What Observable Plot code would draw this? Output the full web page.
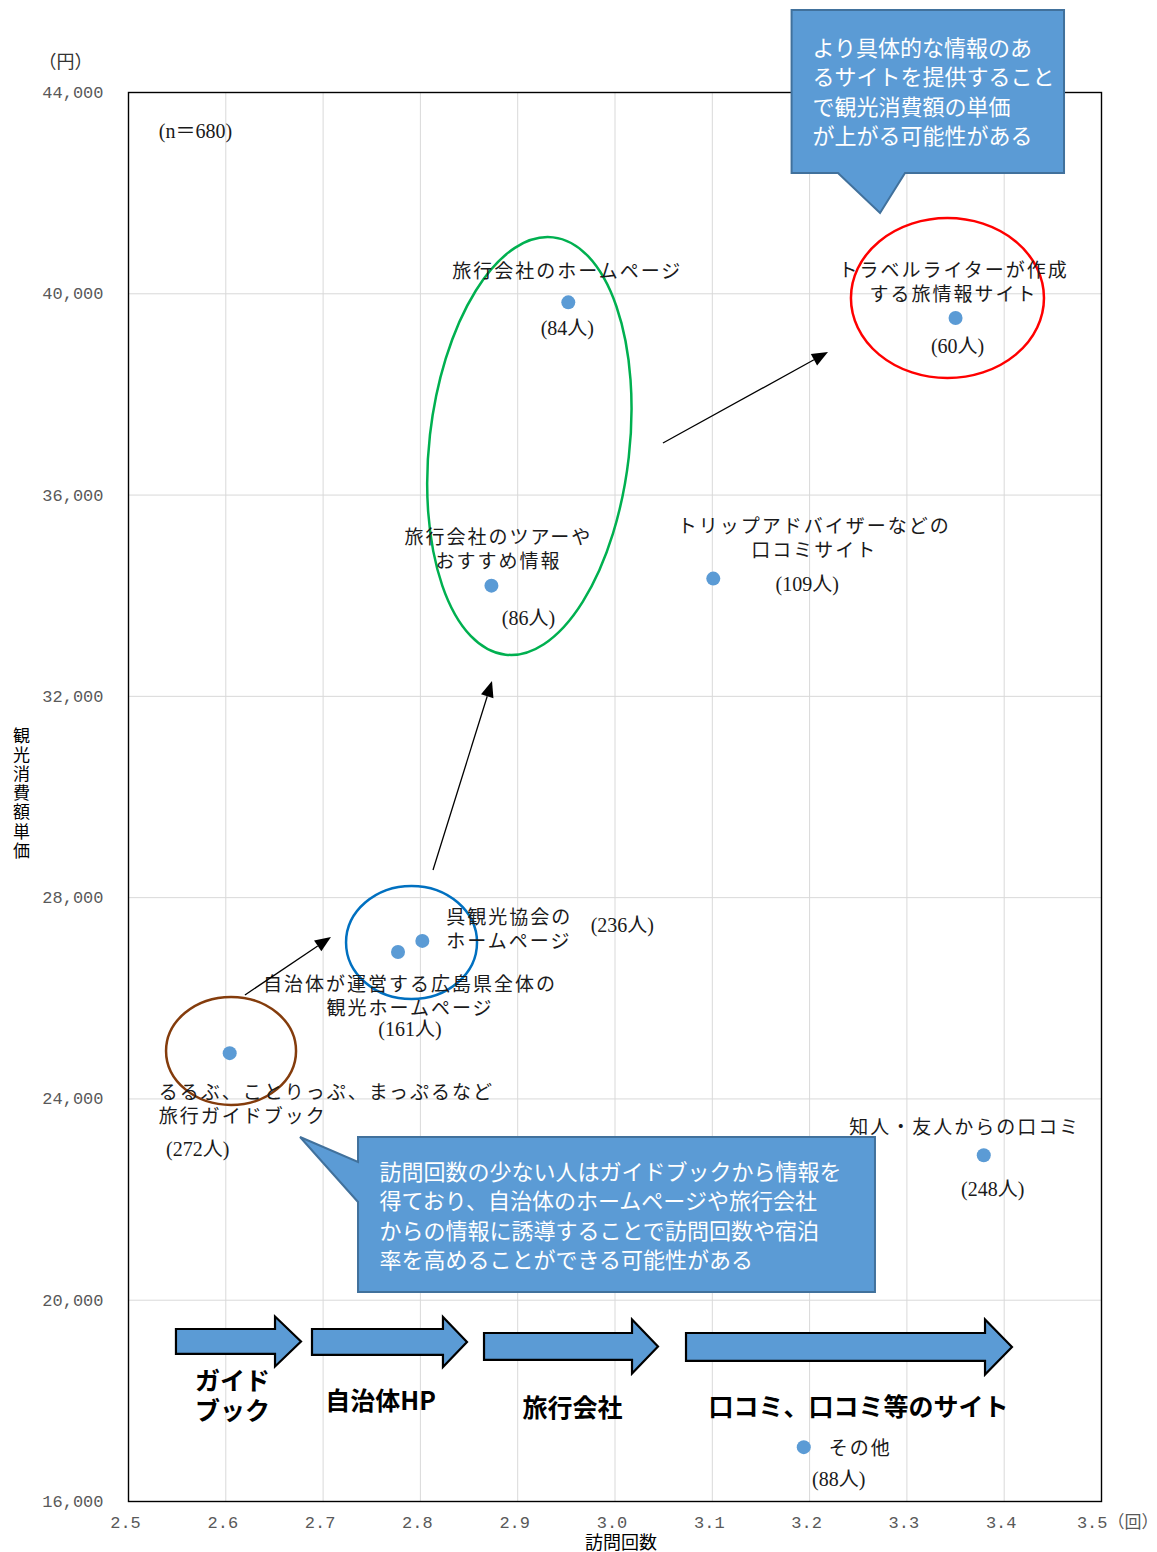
<!DOCTYPE html>
<html>
<head>
<meta charset="utf-8">
<script src="https://cdn.jsdelivr.net/npm/d3@7"></script>
<script src="https://cdn.jsdelivr.net/npm/@observablehq/plot@0.6"></script>
<style>
html, body { margin: 0; padding: 0; background: #fff; }
#chart svg { display: block; }
</style>
</head>
<body>
<div id="chart"></div>
<script>
// ---------- data ----------
const sources = [
  "るるぶ、ことりっぷ、まっぷるなど\n旅行ガイドブック",
  "自治体が運営する広島県全体の\n観光ホームページ",
  "呉観光協会の\nホームページ",
  "旅行会社のツアーや\nおすすめ情報",
  "旅行会社のホームページ",
  "トリップアドバイザーなどの\n口コミサイト",
  "トラベルライターが作成\nする旅情報サイト",
  "知人・友人からの口コミ",
  "その他"
];
const visits = [2.604, 2.777, 2.802, 2.873, 2.952, 3.101, 3.350, 3.379, 3.194];
const spend = [24910, 26920, 27140, 34200, 39830, 34340, 39520, 22880, 17080];
const respondents = [272, 161, 236, 86, 84, 109, 60, 248, 88];

const xTicks = [2.5, 2.6, 2.7, 2.8, 2.9, 3.0, 3.1, 3.2, 3.3, 3.4, 3.5];
const xTickLabels = ["2.5", "2.6", "2.7", "2.8", "2.9", "3.0", "3.1", "3.2", "3.3", "3.4", "3.5（回）"];
const yTicks = [16000, 20000, 24000, 28000, 32000, 36000, 40000, 44000];
const yTickLabels = ["16,000", "20,000", "24,000", "28,000", "32,000", "36,000", "40,000", "44,000"];

const sampleNote = "(n＝680)";
const yUnit = "（円）";
const xTitle = "訪問回数";
const yTitle = "観\n光\n消\n費\n額\n単\n価";

// ---------- label layout (pixel offsets from each point) ----------
const labelLayout = [
  {anchor: "start",  dx: -71, dy: 50,  cdx: -32, cdy: 96},
  {anchor: "middle", dx: 12,  dy: 43,  cdx: 12,  cdy: 78},
  {anchor: "start",  dx: 24,  dy: -13, cdx: 200, cdy: -15},
  {anchor: "middle", dx: 7,   dy: -37, cdx: 37,  cdy: 33},
  {anchor: "middle", dx: -1,  dy: -32, cdx: -1,  cdy: 26},
  {anchor: "middle", dx: 101, dy: -41, cdx: 94,  cdy: 6},
  {anchor: "middle", dx: -2,  dy: -37, cdx: 2,   cdy: 29},
  {anchor: "middle", dx: -19, dy: -29, cdx: 9,   cdy: 34},
  {anchor: "start",  dx: 25,  dy: 0,   cdx: 35,  cdy: 32}
];

// ---------- annotations (data coordinates) ----------
const ellipses = [
  {cx: 2.6059, cy: 24943, rx: 0.0668, ry: 1073, rotate: 0,   color: "#843c0c"},
  {cx: 2.7914, cy: 27099, rx: 0.0673, ry: 1123, rotate: 0,   color: "#0070c0"},
  {cx: 2.9125, cy: 36965, rx: 0.1028, ry: 4173, rotate: 6.5, color: "#00b050"},
  {cx: 3.3422, cy: 39906, rx: 0.0992, ry: 1590, rotate: 0,   color: "#ff0000"}
];
const pointerArrows = [
  {x1: 2.6202, y1: 26056, x2: 2.7086, y2: 27208},
  {x1: 2.8135, y1: 28540, x2: 2.8741, y2: 32295},
  {x1: 3.0498, y1: 37025, x2: 3.2194, y2: 38833}
];
const callouts = [
  {left: 3.182, right: 3.462, top: 45630, bottom: 42390, side: "bottom",
   b1: 3.2297, b2: 3.2986, tipX: 3.2729, tipY: 41596,
   tx: 3.203, ty: 44040, size: 22, lh: 1.34,
   text: "より具体的な情報のあ\nるサイトを提供すること\nで観光消費額の単価\nが上がる可能性がある"},
  {left: 2.7364, right: 3.2677, top: 23234, bottom: 20154, side: "left",
   b1: 21942, b2: 22737, tipX: 2.6768, tipY: 23234,
   tx: 2.758, ty: 21704, size: 22, lh: 1.34,
   text: "訪問回数の少ない人はガイドブックから情報を\n得ており、自治体のホームページや旅行会社\nからの情報に誘導することで訪問回数や宿泊\n率を高めることができる可能性がある"}
];
const blockArrows = [
  {x0: 2.5493, xh: 2.6511, x1: 2.6778, y: 19170, shaft: 248, head: 497, label: "ガイド\nブック", lx: 2.6069, ly: 18107},
  {x0: 2.6891, xh: 2.8237, x1: 2.8484, y: 19160, shaft: 258, head: 497, label: "自治体HP", lx: 2.759, ly: 18008},
  {x0: 2.8659, xh: 3.0180, x1: 3.0447, y: 19071, shaft: 268, head: 537, label: "旅行会社", lx: 2.9563, ly: 17867},
  {x0: 3.0735, xh: 3.3808, x1: 3.4085, y: 19061, shaft: 278, head: 547, label: "口コミ、口コミ等のサイト", lx: 3.2503, ly: 17889}
];

// ---------- custom render marks ----------
function ellipseMark(index, scales) {
  const {x, y} = scales;
  const g = d3.create("svg:g");
  for (const e of ellipses) {
    const cx = x(e.cx), cy = y(e.cy);
    const rx = Math.abs(x(e.cx + e.rx) - cx), ry = Math.abs(y(e.cy + e.ry) - cy);
    g.append("ellipse")
      .attr("cx", cx).attr("cy", cy).attr("rx", rx).attr("ry", ry)
      .attr("transform", `rotate(${e.rotate} ${cx} ${cy})`)
      .attr("fill", "none").attr("stroke", e.color).attr("stroke-width", 2.5);
  }
  return g.node();
}
function pointerArrowMark(index, scales) {
  const {x, y} = scales;
  const g = d3.create("svg:g");
  for (const a of pointerArrows) {
    const x1 = x(a.x1), y1 = y(a.y1), x2 = x(a.x2), y2 = y(a.y2);
    const ang = Math.atan2(y2 - y1, x2 - x1), L = 16, W = 6.5;
    const bx = x2 - L * Math.cos(ang), by = y2 - L * Math.sin(ang);
    g.append("line").attr("x1", x1).attr("y1", y1).attr("x2", bx).attr("y2", by)
      .attr("stroke", "#000").attr("stroke-width", 1.3);
    g.append("path")
      .attr("d", `M${x2},${y2}L${bx + W * Math.sin(ang)},${by - W * Math.cos(ang)}L${bx - W * Math.sin(ang)},${by + W * Math.cos(ang)}Z`)
      .attr("fill", "#000");
  }
  return g.node();
}
function calloutMark(index, scales) {
  const {x, y} = scales;
  const g = d3.create("svg:g");
  for (const c of callouts) {
    const L = x(c.left), R = x(c.right), T = y(c.top), B = y(c.bottom);
    let d;
    if (c.side === "bottom") {
      d = `M${L},${T}L${R},${T}L${R},${B}L${x(c.b2)},${B}L${x(c.tipX)},${y(c.tipY)}L${x(c.b1)},${B}L${L},${B}Z`;
    } else {
      d = `M${L},${T}L${R},${T}L${R},${B}L${L},${B}L${L},${y(c.b1)}L${x(c.tipX)},${y(c.tipY)}L${L},${y(c.b2)}Z`;
    }
    g.append("path").attr("d", d).attr("fill", "#5b9bd5")
      .attr("stroke", "#41719c").attr("stroke-width", 2).attr("stroke-linejoin", "miter");
  }
  return g.node();
}
function blockArrowMark(index, scales) {
  const {x, y} = scales;
  const g = d3.create("svg:g");
  for (const b of blockArrows) {
    const X0 = x(b.x0), XH = x(b.xh), X1 = x(b.x1), Y = y(b.y);
    const sT = y(b.y + b.shaft), sB = y(b.y - b.shaft), hT = y(b.y + b.head), hB = y(b.y - b.head);
    g.append("path")
      .attr("d", `M${X0},${sT}L${XH},${sT}L${XH},${hT}L${X1},${Y}L${XH},${hB}L${XH},${sB}L${X0},${sB}Z`)
      .attr("fill", "#5b9bd5").attr("stroke", "#000").attr("stroke-width", 2.2).attr("stroke-linejoin", "miter");
  }
  return g.node();
}

// ---------- plot ----------
const idx = sources.map((_, i) => i);
const JP = "'Noto Sans CJK JP', sans-serif";
const SERIF = "'Liberation Serif', 'Noto Sans CJK JP', serif";
const MONO = "'Liberation Mono', 'Noto Sans CJK JP', monospace";
const LABEL_FILL = "#1a1a1b"; // marker colour for spaced Japanese labels

const nameLabels = idx.map(i => Plot.text([i], {
  x: d => visits[d], y: d => spend[d], text: d => sources[d],
  textAnchor: labelLayout[i].anchor, dx: labelLayout[i].dx, dy: labelLayout[i].dy,
  lineHeight: 1.26, fontSize: 19, fontFamily: JP, fill: LABEL_FILL
}));
const countLabels = idx.map(i => Plot.text([i], {
  x: d => visits[d], y: d => spend[d], text: d => `(${respondents[d]}人)`,
  textAnchor: "middle", dx: labelLayout[i].cdx, dy: labelLayout[i].cdy,
  fontSize: 20, fontFamily: SERIF, fill: "#1a1a1a"
}));

const xIdx = xTicks.map((_, i) => i);

const plot = Plot.plot({
  width: 1157,
  height: 1552,
  marginLeft: 128,
  marginRight: 56,
  marginTop: 92,
  marginBottom: 51,
  style: {background: "#fff", fontFamily: JP, overflow: "visible"},
  x: {domain: [2.5, 3.5], axis: null},
  y: {domain: [16000, 44000], axis: null},
  marks: [
    Plot.ruleX(xTicks, {x: d => d, stroke: "#d9d9d9", strokeWidth: 1}),
    Plot.ruleY(yTicks, {y: d => d, stroke: "#d9d9d9", strokeWidth: 1}),
    Plot.frame({stroke: "#000", strokeWidth: 1.4}),
    // y tick labels
    Plot.text(yTicks, {x: () => 2.5, y: d => d, text: (d, i) => yTickLabels[i],
      textAnchor: "end", dx: -25, fontSize: 17, fontFamily: MONO, fill: "#595959"}),
    // x tick labels
    Plot.text(xIdx.slice(0, -1), {x: i => xTicks[i], y: () => 16000, text: i => xTickLabels[i],
      textAnchor: "middle", dx: -3, dy: 21, fontSize: 17, fontFamily: MONO, fill: "#595959"}),
    Plot.text(xIdx.slice(-1), {x: i => xTicks[i], y: () => 16000, text: i => xTickLabels[i],
      textAnchor: "end", dx: 57, dy: 21, fontSize: 17, fontFamily: MONO, fill: "#595959"}),
    // axis titles & notes
    Plot.text([yUnit], {frameAnchor: "top-left", textAnchor: "middle", lineAnchor: "middle",
      dx: -63, dy: -30, fontSize: 18, fontFamily: JP, fill: "#333"}),
    Plot.text([yTitle], {frameAnchor: "left", textAnchor: "middle", lineAnchor: "middle",
      dx: -107, dy: -4, lineHeight: 1.13, fontSize: 17, fontFamily: JP, fill: "#000"}),
    Plot.text([xTitle], {frameAnchor: "bottom", textAnchor: "middle", lineAnchor: "middle",
      dx: 6, dy: 42, fontSize: 18, fontFamily: JP, fill: "#000"}),
    Plot.text([sampleNote], {frameAnchor: "top-left", textAnchor: "middle", lineAnchor: "middle",
      dx: 67, dy: 39, fontSize: 20, fontFamily: SERIF, fill: "#1a1a1a"}),
    // annotations behind labels
    ellipseMark,
    // points
    Plot.dot(idx, {x: i => visits[i], y: i => spend[i], r: 7, fill: "#5b9bd5", stroke: "none"}),
    ...nameLabels,
    ...countLabels,
    pointerArrowMark,
    blockArrowMark,
    Plot.text(blockArrows, {x: d => d.lx, y: d => d.ly, text: d => d.label,
      fontSize: 25, fontWeight: "bold", lineHeight: 1.2, fontFamily: JP, fill: "#000"}),
    calloutMark,
    ...callouts.map(c => Plot.text([c], {x: d => d.tx, y: d => d.ty, text: d => d.text,
      textAnchor: "start", fontSize: c.size, lineHeight: c.lh, fontFamily: JP, fill: "#fff"}))
  ]
});
// widen the Mincho-like spacing of the point labels
for (const g of plot.querySelectorAll("g")) {
  if ((g.getAttribute("fill") || "").toLowerCase() === LABEL_FILL) g.style.letterSpacing = "2px";
}
for (const t of plot.querySelectorAll("text")) {
  if ((t.getAttribute("fill") || "").toLowerCase() === LABEL_FILL) t.style.letterSpacing = "2px";
}
document.getElementById("chart").appendChild(plot);
</script>
</body>
</html>
